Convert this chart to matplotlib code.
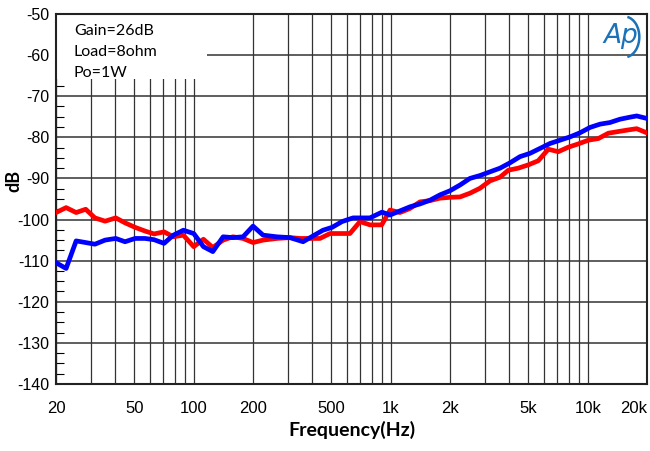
import numpy as np
import matplotlib
matplotlib.use("Agg")
import matplotlib.pyplot as plt
from matplotlib.ticker import FixedLocator, NullFormatter
from matplotlib.patches import Rectangle, Arc

# data (Hz, dB)
red_f = [20, 22.5, 25.3, 28.3, 31.5, 35.5, 40.2, 44.8, 50.4, 56.6, 62.9, 70.7, 78.8,
         88.6, 100, 112, 125, 141, 158, 178, 200, 225, 264, 308, 347, 437, 492, 621,
         698, 785, 900, 992, 1114, 1253, 1409, 1582, 1778, 2000, 2248, 2524, 2836,
         3190, 3589, 3954, 4444, 4996, 5610, 6310, 7092, 7972, 8961, 10070, 11320,
         12728, 14290, 16070, 17730, 19930]
red_db = [-98.3, -97.1, -98.3, -97.5, -99.6, -100.4, -99.6, -100.8, -101.9, -102.8,
          -103.5, -103.0, -104.2, -103.8, -106.6, -104.8, -106.8, -105.0, -104.2,
          -104.6, -105.6, -105.0, -104.6, -104.4, -104.6, -104.6, -103.4, -103.4,
          -100.5, -101.3, -101.3, -97.7, -98.3, -97.3, -95.7, -95.4, -94.8, -94.6,
          -94.5, -93.6, -92.4, -90.6, -89.7, -88.0, -87.5, -86.7, -85.7, -82.9,
          -83.5, -82.4, -81.6, -80.7, -80.3, -79.0, -78.6, -78.2, -77.9, -78.9]

blue_f = [20, 22.5, 25.3, 28.3, 31.5, 35.5, 40.2, 44.8, 50.4, 56.6, 62.9, 70.7, 78.8,
          88.6, 100, 112, 125, 141, 158, 178, 200, 225, 264, 308, 359, 403, 453, 504,
          566, 644, 785, 903, 992, 1114, 1253, 1409, 1582, 1778, 2000, 2248, 2524,
          2836, 3190, 3589, 4034, 4532, 5093, 5726, 6436, 7236, 8128, 9141, 10270,
          11546, 12972, 14580, 16400, 17730, 19930]
blue_db = [-110.5, -111.9, -105.2, -105.6, -106.0, -105.0, -104.6, -105.4, -104.6,
           -104.6, -104.9, -105.8, -103.8, -102.6, -103.4, -106.6, -107.8, -104.2,
           -104.4, -104.2, -101.6, -103.8, -104.2, -104.4, -105.4, -104.0, -102.6,
           -101.9, -100.5, -99.6, -99.6, -98.2, -98.9, -97.9, -96.9, -96.2, -95.3,
           -94.0, -93.0, -91.6, -90.0, -89.3, -88.4, -87.5, -86.2, -84.7, -83.9,
           -82.7, -81.5, -80.7, -79.9, -78.9, -77.6, -76.8, -76.4, -75.6, -75.1,
           -74.8, -75.4]

x_ticks = [20, 50, 100, 200, 500, 1000, 2000, 5000, 10000, 20000]
x_labels = ["20", "50", "100", "200", "500", "1k", "2k", "5k", "10k", "20k"]
x_grid = [30, 40, 60, 70, 80, 90, 300, 400, 600, 700, 800, 900,
          3000, 4000, 6000, 7000, 8000, 9000]
y_ticks = list(range(-140, -49, 10))
notes = ["Gain=26dB", "Load=8ohm", "Po=1W"]

tick_font = "Liberation Sans"

fig = plt.figure(figsize=(6.5, 4.51), dpi=100)
ax = fig.add_axes([0.0862, 0.1486, 0.9092, 0.8204])

ax.set_xscale("log")
ax.set_xlim(20, 20000)
ax.set_ylim(-140, -50)

ax.xaxis.set_major_locator(FixedLocator(x_ticks))
ax.xaxis.set_minor_locator(FixedLocator(x_grid))
ax.xaxis.set_minor_formatter(NullFormatter())
ax.set_xticklabels(x_labels, family=tick_font, fontsize=12)
ax.set_yticks(y_ticks)
ax.set_yticklabels([str(v) for v in y_ticks], family=tick_font, fontsize=11.5)
ax.yaxis.set_minor_locator(FixedLocator(np.arange(-140, -49, 2.5)))
ax.get_xticklabels()[-1].set_ha("right")

ax.tick_params(axis="x", which="both", length=0, pad=12)
ax.tick_params(axis="y", which="major", length=0, pad=5)
ax.tick_params(axis="y", which="minor", direction="in", length=6, width=0.8)

ax.grid(True, which="both", axis="x", color="#333333", lw=0.9)
ax.grid(True, which="major", axis="y", color="#333333", lw=1.1)
for s in ax.spines.values():
    s.set_linewidth(1.5)
    s.set_color("#222222")

ax.plot(red_f, red_db, color="#ff0000", lw=3.4, zorder=3)
ax.plot(blue_f, blue_db, color="#0000ff", lw=3.4, zorder=4)

# white notes box in upper left
ax.add_patch(Rectangle((0, 0.823), 0.255, 0.177, transform=ax.transAxes,
                       facecolor="white", edgecolor="none", zorder=2.5))
for i, t in enumerate(notes):
    ax.text(0.03, 0.955 - i * 0.057, t, transform=ax.transAxes, fontsize=11.5,
            family="Lato", va="center", ha="left", zorder=5)

# Ap logo
ax.text(0.955, 0.94, "Ap", transform=ax.transAxes, fontsize=19, style="italic",
        color="#1a72b8", ha="center", va="center", zorder=5, family="DejaVu Sans")
ax.add_patch(Arc((0.962, 0.938), 0.05, 0.11, theta1=-85, theta2=85,
                 transform=ax.transAxes, color="#1a72b8", lw=1.8, zorder=5))

ax.set_xlabel("Frequency(Hz)", fontsize=14, fontweight="bold", family="Lato", labelpad=4)
ax.set_ylabel("dB", fontsize=13, fontweight="bold", family="Lato")
ax.yaxis.set_label_coords(-0.057, 0.55)

fig.savefig("out.png", dpi=100)
